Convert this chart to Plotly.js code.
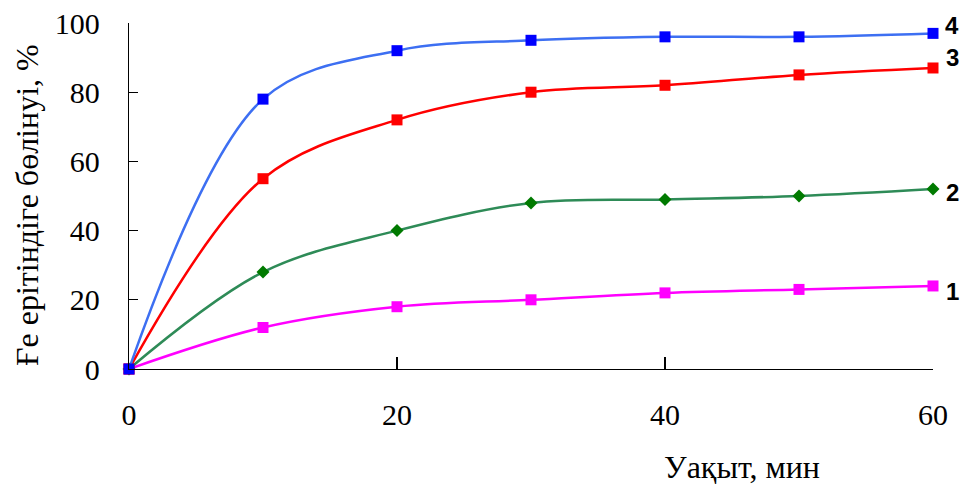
<!DOCTYPE html>
<html>
<head>
<meta charset="utf-8">
<script src="https://cdn.plot.ly/plotly-3.0.1.min.js"></script>
<style>html,body{margin:0;padding:0;background:#fff;}#chart{width:961px;height:484px;}</style>
</head>
<body>
<div id="chart"></div>
<script>
const time = [0, 10, 20, 30, 40, 50, 60];
const series1 = [0, 12, 18, 20, 22, 23, 24];
const series2 = [0, 28, 40, 48, 49, 50, 52];
const series3 = [0, 55, 72, 80, 82, 85, 87];
const series4 = [0, 78, 92, 95, 96, 96, 97];
const seriesLabels = ['1', '2', '3', '4'];
const xTicks = [0, 20, 40, 60];
const yTicks = [0, 20, 40, 60, 80, 100];
const xTitle = 'Уақыт, мин';
const yTitle = 'Ғе ерітіндіге бөлінуі, %';

const allSeries = [series1, series2, series3, series4];
const lineColors = ['#ff00ff', '#2e8b57', '#ff0000', '#3d6ff2'];
const markerColors = ['#ff00ff', '#007a00', '#ff0000', '#0000ff'];
const markerSymbols = ['square', 'diamond', 'square', 'square'];
const markerSizes = [11, 10, 11, 11];
const labelYShift = [-6, -3, 10, 8];

const traces = allSeries.map((s, i) => ({
  x: time, y: s, type: 'scatter', mode: 'lines+markers',
  line: {color: lineColors[i], width: 2.5, shape: 'spline', smoothing: 1},
  marker: {color: markerColors[i], symbol: markerSymbols[i], size: markerSizes[i]},
  cliponaxis: false, showlegend: false, hoverinfo: 'skip'
}));

const W = 961, H = 484, L = 129, R = 28, T = 23, B = 115;

const annotations = allSeries.map((s, i) => ({
  x: time[time.length - 1], y: s[s.length - 1], xref: 'x', yref: 'y',
  text: '<b>' + seriesLabels[i] + '</b>', showarrow: false,
  xshift: 19, yshift: labelYShift[i],
  font: {family: 'Liberation Sans, Arial', size: 24, color: '#000'}
}));
annotations.push({
  x: (742 - L) / (W - L - R), y: (H - B - 467) / (H - T - B), xref: 'paper', yref: 'paper',
  xanchor: 'center', yanchor: 'middle',
  text: xTitle, showarrow: false,
  font: {family: 'Liberation Serif', size: 32, color: '#000'}
});
annotations.push({
  x: (27 - L) / (W - L - R), y: (H - B - 205) / (H - T - B), xref: 'paper', yref: 'paper',
  xanchor: 'center', yanchor: 'middle',
  text: yTitle, showarrow: false, textangle: -90,
  font: {family: 'Liberation Serif', size: 32, color: '#000'}
});

const layout = {
  width: W, height: H,
  margin: {l: L, r: R, t: T, b: B, pad: 0},
  paper_bgcolor: '#fff', plot_bgcolor: '#fff',
  font: {family: 'Liberation Serif', size: 30, color: '#000'},
  xaxis: {
    range: [0, 60], tickvals: xTicks, ticktext: xTicks.map(String),
    showgrid: false, zeroline: false, showline: true, linecolor: '#000', linewidth: 1.3,
    ticks: 'inside', ticklen: 12, tickcolor: '#000', tickwidth: 1.3,
    ticklabelstandoff: 19, tickfont: {family: 'Liberation Serif', size: 30}
  },
  yaxis: {
    range: [0, 100], tickvals: yTicks, ticktext: yTicks.map(String),
    showgrid: false, zeroline: false, showline: true, linecolor: '#000', linewidth: 1.3,
    ticks: 'inside', ticklen: 9, tickcolor: '#000', tickwidth: 1.3,
    ticklabelstandoff: 22, tickfont: {family: 'Liberation Serif', size: 30}
  },
  annotations: annotations
};

Plotly.newPlot('chart', traces, layout, {staticPlot: true});
</script>
</body>
</html>
